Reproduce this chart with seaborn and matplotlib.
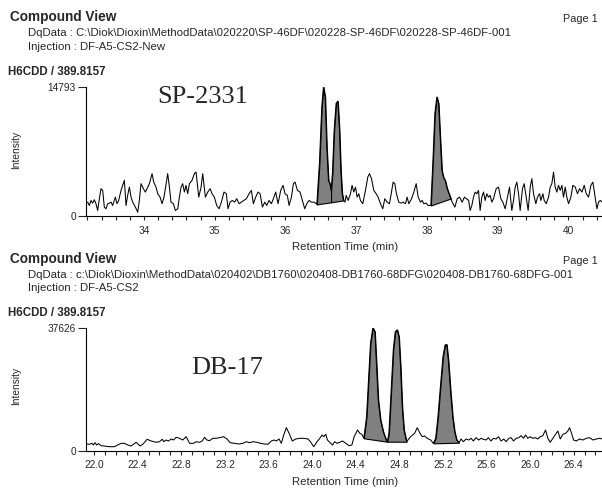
import numpy as np
import matplotlib
matplotlib.use("Agg")
import matplotlib.pyplot as plt
from matplotlib.ticker import MultipleLocator
import seaborn as sns

# ---- data ----
# SP-2331 column, H6CDD / 389.8157 trace
sp_time = [
    33.180, 33.204, 33.227, 33.251, 33.274, 33.298, 33.321, 33.345, 33.369, 33.392,
    33.416, 33.439, 33.463, 33.487, 33.510, 33.534, 33.557, 33.595, 33.618, 33.642,
    33.675, 33.699, 33.722, 33.746, 33.769, 33.793, 33.817, 33.840, 33.878, 33.911,
    33.934, 33.958, 33.991, 34.019, 34.043, 34.076, 34.114, 34.137, 34.170, 34.194,
    34.227, 34.255, 34.283, 34.312, 34.335, 34.359, 34.382, 34.415, 34.443, 34.477,
    34.500, 34.524, 34.547, 34.571, 34.594, 34.618, 34.642, 34.679, 34.712, 34.736,
    34.774, 34.807, 34.830, 34.868, 34.901, 34.934, 34.962, 34.995, 35.028, 35.061,
    35.094, 35.131, 35.164, 35.188, 35.216, 35.249, 35.282, 35.311, 35.344, 35.377,
    35.414, 35.447, 35.485, 35.518, 35.546, 35.579, 35.612, 35.641, 35.674, 35.707,
    35.735, 35.768, 35.801, 35.829, 35.862, 35.895, 35.933, 35.966, 35.994, 36.027,
    36.051, 36.084, 36.112, 36.136, 36.169, 36.206, 36.239, 36.272, 36.301, 36.334,
    36.367, 36.404, 36.428, 36.443, 36.480, 36.513, 36.537, 36.561, 36.584, 36.608,
    36.631, 36.645, 36.664, 36.688, 36.716, 36.740, 36.763, 36.782, 36.801, 36.820,
    36.842, 36.858, 36.886, 36.919, 36.942, 36.966, 36.990, 37.013, 37.037, 37.060,
    37.093, 37.131, 37.164, 37.188, 37.216, 37.249, 37.282, 37.310, 37.343, 37.376,
    37.404, 37.437, 37.470, 37.499, 37.522, 37.546, 37.569, 37.602, 37.635, 37.664,
    37.697, 37.720, 37.744, 37.782, 37.815, 37.848, 37.876, 37.909, 37.933, 37.956,
    37.989, 38.017, 38.055, 38.083, 38.112, 38.140, 38.164, 38.187, 38.211, 38.234,
    38.258, 38.281, 38.305, 38.338, 38.357, 38.395, 38.428, 38.461, 38.498, 38.531,
    38.560, 38.590, 38.611, 38.635, 38.658, 38.682, 38.705, 38.729, 38.752, 38.776,
    38.800, 38.823, 38.847, 38.870, 38.894, 38.917, 38.941, 38.979, 39.012, 39.045,
    39.073, 39.106, 39.139, 39.167, 39.200, 39.224, 39.248, 39.271, 39.295, 39.318,
    39.351, 39.375, 39.403, 39.431, 39.460, 39.483, 39.507, 39.540, 39.563, 39.592,
    39.611, 39.639, 39.658, 39.686, 39.719, 39.743, 39.766, 39.790, 39.813, 39.837,
    39.860, 39.884, 39.908, 39.931, 39.955, 39.978, 40.002, 40.035, 40.063, 40.096,
    40.129, 40.158, 40.191, 40.224, 40.252, 40.285, 40.318, 40.346, 40.379, 40.403,
    40.426, 40.450, 40.478,
]
sp_signal = [
    1460, 1640, 1260, 1835, 1525, 1915, 1460, 690, 2030, 3180,
    2980, 1070, 880, 1460, 1525, 1640, 1260, 2210, 1460, 1835,
    2980, 3560, 4130, 1260, 2410, 3360, 2210, 1640, 1070, 490,
    1835, 3750, 3180, 2790, 3180, 3750, 4900, 3930, 3360, 2600,
    2210, 1460, 2210, 3750, 4900, 3360, 1640, 1460, 690, 880,
    2210, 3360, 3750, 2790, 3560, 2600, 3750, 4130, 4900, 5080,
    2210, 3360, 4900, 2210, 2790, 3180, 2600, 2210, 1260, 880,
    1640, 2790, 2600, 880, 1640, 1835, 1640, 2030, 1460, 1640,
    1835, 2030, 2600, 2980, 1460, 2210, 2790, 2600, 1070, 1640,
    1260, 1835, 1460, 2030, 2790, 1460, 2980, 3560, 2600, 2410,
    1260, 2210, 3750, 3930, 2980, 2790, 1835, 880, 1460, 1835,
    1640, 1640, 1525, 1380, 6040, 12500, 14793, 13650, 7910, 4130,
    3670, 2980, 4930, 9860, 12930, 13190, 9860, 5280, 2640, 1835,
    1640, 2410, 1835, 2600, 3560, 2790, 3360, 2210, 2600, 1835,
    1460, 2980, 4510, 4900, 4320, 2980, 2600, 2210, 1460, 880,
    2030, 1640, 1460, 2790, 3930, 3750, 2600, 1640, 1525, 1640,
    1460, 2210, 1460, 2030, 2790, 3750, 2210, 1640, 1835, 1460,
    1525, 1260, 1260, 6040, 11780, 13650, 12930, 9060, 5280, 4470,
    4130, 3330, 2750, 2060, 1640, 1070, 2030, 2210, 1640, 2210,
    2030, 1835, 690, 1260, 2210, 2790, 2600, 2980, 690, 2210,
    2790, 1835, 2600, 2210, 2410, 1640, 2030, 3180, 3360, 2030,
    1640, 880, 2210, 3360, 690, 1835, 3360, 3930, 2600, 690,
    3180, 3750, 2210, 690, 3360, 4320, 2600, 1460, 2210, 2600,
    1835, 2600, 1835, 1460, 2210, 3360, 3750, 5080, 3360, 2790,
    3560, 2980, 3560, 2210, 3360, 2210, 1460, 2210, 3560, 3360,
    2600, 3180, 2790, 3560, 2600, 2210, 3560, 3930, 2210, 880,
    1640, 1835, 1640,
]
# integrated peaks: start, end, and the two ends of the drawn baseline
sp_peak_start = [36.443, 36.645, 38.055]
sp_peak_end = [36.645, 36.820, 38.338]
sp_base_from = [36.443, 36.443, 38.055]
sp_base_to = [36.820, 36.820, 38.338]

# DB-17 column, same ion
db_time = [
    21.926, 21.957, 21.981, 21.993, 22.009, 22.024, 22.042, 22.064, 22.094, 22.140,
    22.186, 22.217, 22.248, 22.278, 22.309, 22.340, 22.386, 22.422, 22.447, 22.487,
    22.523, 22.569, 22.600, 22.625, 22.640, 22.661, 22.683, 22.707, 22.729, 22.753,
    22.784, 22.814, 22.845, 22.876, 22.912, 22.937, 22.968, 22.992, 23.014, 23.035,
    23.060, 23.090, 23.121, 23.151, 23.188, 23.219, 23.249, 23.289, 23.329, 23.366,
    23.397, 23.427, 23.458, 23.495, 23.525, 23.565, 23.596, 23.626, 23.651, 23.672,
    23.697, 23.718, 23.740, 23.764, 23.789, 23.819, 23.850, 23.887, 23.924, 23.963,
    23.985, 24.015, 24.046, 24.071, 24.092, 24.107, 24.126, 24.141, 24.162, 24.187,
    24.208, 24.230, 24.254, 24.279, 24.310, 24.340, 24.365, 24.386, 24.417, 24.438,
    24.457, 24.475, 24.500, 24.521, 24.536, 24.558, 24.576, 24.592, 24.607, 24.628,
    24.653, 24.674, 24.690, 24.705, 24.726, 24.745, 24.763, 24.781, 24.797, 24.812,
    24.827, 24.843, 24.867, 24.904, 24.941, 24.965, 24.990, 25.011, 25.033, 25.057,
    25.088, 25.112, 25.134, 25.155, 25.180, 25.201, 25.220, 25.235, 25.250, 25.272,
    25.290, 25.308, 25.327, 25.348, 25.367, 25.388, 25.413, 25.437, 25.459, 25.480,
    25.504, 25.529, 25.550, 25.572, 25.596, 25.618, 25.642, 25.664, 25.688, 25.710,
    25.734, 25.759, 25.780, 25.805, 25.826, 25.848, 25.872, 25.897, 25.918, 25.940,
    25.958, 25.979, 26.001, 26.025, 26.050, 26.071, 26.093, 26.117, 26.142, 26.163,
    26.185, 26.209, 26.234, 26.255, 26.277, 26.301, 26.326, 26.347, 26.362, 26.381,
    26.399, 26.424, 26.454, 26.485, 26.516, 26.546, 26.577, 26.607, 26.638, 26.662,
]
db_signal = [
    2050, 1960, 2260, 1740, 2450, 1740, 2140, 1530, 1440, 1220,
    1220, 1740, 2260, 2260, 1740, 1440, 2570, 1440, 1960, 3490,
    2970, 2570, 2750, 3490, 2750, 3270, 2970, 3580, 3270, 4100,
    3790, 3270, 4280, 2260, 2260, 2750, 2570, 2970, 4100, 3270,
    3060, 3790, 3790, 3980, 4280, 3580, 2450, 2260, 2050, 2260,
    2750, 2450, 2750, 2570, 2260, 2050, 1960, 2970, 3270, 2970,
    3580, 2260, 4800, 7040, 5320, 2970, 3580, 3790, 3790, 3580,
    2750, 1220, 2750, 3790, 4800, 4280, 5020, 3270, 2570, 1740,
    2750, 2260, 2570, 2970, 2260, 1530, 1740, 4280, 6330, 5320,
    5020, 3790, 10400, 23680, 32850, 37626, 36400, 25700, 15500, 9390,
    5810, 3790, 2750, 5320, 18570, 30800, 36400, 37000, 34870, 25700,
    13460, 6330, 2750, 4280, 5320, 7040, 5320, 4280, 4500, 3790,
    3270, 2260, 3790, 10400, 20620, 28750, 32330, 32500, 27740, 17560,
    10400, 5810, 3270, 2450, 3580, 2750, 3580, 3270, 3790, 2970,
    3980, 3270, 3790, 3490, 3270, 3980, 2970, 3790, 3580, 4280,
    2970, 3580, 2750, 3790, 3980, 2970, 3790, 3980, 4590, 3790,
    4800, 3790, 4280, 3790, 3980, 3580, 4280, 4590, 6330, 3790,
    2570, 3790, 5020, 6030, 3580, 5020, 5320, 6030, 7040, 5320,
    3270, 2970, 3580, 3270, 3790, 3980, 3270, 3580, 3790, 3580,
]
db_peak_start = [24.475, 24.690, 25.112]
db_peak_end = [24.690, 24.867, 25.348]
db_base_from = [24.475, 24.690, 25.112]
db_base_to = [24.690, 24.867, 25.348]

sp_xlim = (33.18, 40.475)
db_xlim = (21.926, 26.66)
sp_ymax = 14793
db_ymax = 37626

# ---- style ----
sns.set_style("ticks")
plt.rcParams["font.family"] = ["Liberation Sans", "DejaVu Sans"]
plt.rcParams["axes.linewidth"] = 0.8

W, H = 602, 488


def fpos(x, y):
    return x / W, 1 - y / H


def draw_trace(ax, t, y, p_start, p_end, b_from, b_to, xlim, ymax, major, minor):
    t = np.asarray(t, dtype=float)
    y = np.asarray(y, dtype=float)
    for s, e, b0, b1 in zip(p_start, p_end, b_from, b_to):
        m = (t >= s - 1e-9) & (t <= e + 1e-9)
        yb = [np.interp(b0, t, y), np.interp(b1, t, y)]
        base = np.interp(t[m], [b0, b1], yb)
        ax.fill_between(t[m], y[m], base, facecolor="#808080",
                        edgecolor="black", linewidth=0.8, zorder=2)
    sns.lineplot(x=t, y=y, ax=ax, color="black", linewidth=0.75,
                 sort=False, estimator=None, zorder=3)
    ax.set_xlim(*xlim)
    ax.set_ylim(0, ymax)
    ax.set_yticks([0, ymax])
    ax.set_yticklabels(["0", str(ymax)])
    ax.xaxis.set_major_locator(MultipleLocator(major))
    ax.xaxis.set_minor_locator(MultipleLocator(minor))
    ax.tick_params(axis="x", which="major", length=3.2, width=0.8,
                   labelsize=7.3, pad=3.5, direction="out")
    ax.tick_params(axis="x", which="minor", length=2.6, width=0.8, direction="out")
    ax.tick_params(axis="y", length=6, width=0.8, labelsize=7.3, pad=1.2)
    ax.set_xlabel("")
    ax.set_ylabel("")
    sns.despine(ax=ax)
    for sp in ax.spines.values():
        sp.set_color("black")


fig = plt.figure(figsize=(6.02, 4.88), dpi=100)

ax1 = fig.add_axes([86 / W, 1 - 216.5 / H, 516 / W, 129.5 / H])
draw_trace(ax1, sp_time, sp_signal, sp_peak_start, sp_peak_end,
           sp_base_from, sp_base_to, sp_xlim, sp_ymax, 1.0, 0.2)
ax1.xaxis.set_major_formatter(plt.FuncFormatter(lambda v, p: f"{v:.0f}"))

ax2 = fig.add_axes([86 / W, 1 - 450.7 / H, 516 / W, 123 / H])
draw_trace(ax2, db_time, db_signal, db_peak_start, db_peak_end,
           db_base_from, db_base_to, db_xlim, db_ymax, 0.4, 0.1)
ax2.xaxis.set_major_formatter(plt.FuncFormatter(lambda v, p: f"{v:.1f}"))

headers = [
    (0, "DqData : C:\\Diok\\Dioxin\\MethodData\\020220\\SP-46DF\\020228-SP-46DF\\020228-SP-46DF-001",
     "Injection : DF-A5-CS2-New"),
    (241, "DqData : c:\\Diok\\Dioxin\\MethodData\\020402\\DB1760\\020408-DB1760-68DFG\\020408-DB1760-68DFG-001",
     "Injection : DF-A5-CS2"),
]
for off, dq, inj in headers:
    fig.text(*fpos(10, 17.5 + off), "Compound View", fontsize=9.8,
             fontweight="bold", va="center", ha="left")
    fig.text(*fpos(598, 19.5 + off), "Page 1", fontsize=7.8, va="center", ha="right")
    fig.text(*fpos(28, 33.5 + off), dq, fontsize=8.2, va="center", ha="left")
    fig.text(*fpos(28, 47 + off), inj, fontsize=8.2, va="center", ha="left")
    fig.text(*fpos(8, 71.5 + off), "H6CDD / 389.8157", fontsize=8.3,
             fontweight="bold", va="center", ha="left")

fig.text(*fpos(16, 150), "Intensity", fontsize=7.3, rotation=90, va="center", ha="center")
fig.text(*fpos(16, 386), "Intensity", fontsize=7.3, rotation=90, va="center", ha="center")
fig.text(*fpos(345, 246.5), "Retention Time (min)", fontsize=8.2, va="center", ha="center")
fig.text(*fpos(345, 482), "Retention Time (min)", fontsize=8.2, va="center", ha="center")

fig.text(*fpos(203, 97), "SP-2331", fontsize=19, family="Liberation Serif",
         va="center", ha="center")
fig.text(*fpos(227, 368), "DB-17", fontsize=19, family="Liberation Serif",
         va="center", ha="center")

fig.savefig("out.png", dpi=100)
